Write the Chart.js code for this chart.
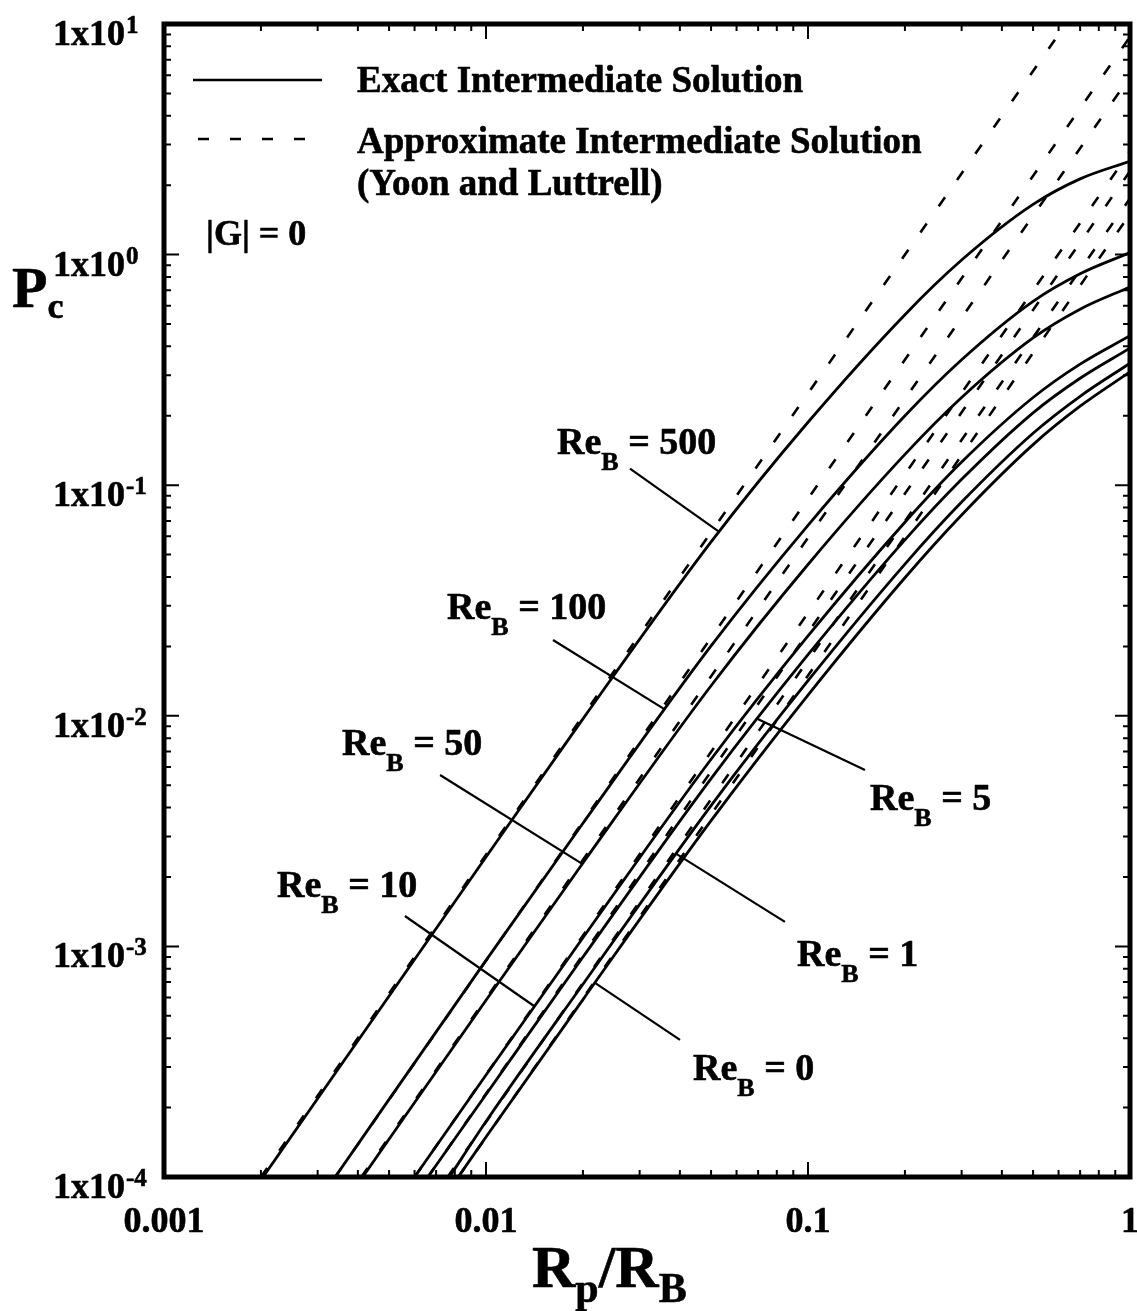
<!DOCTYPE html>
<html>
<head>
<meta charset="utf-8">
<title>Pc vs Rp/RB</title>
<script src="https://cdn.jsdelivr.net/npm/chart.js@4.4.1/dist/chart.umd.min.js"></script>
<style>
  html, body { margin: 0; padding: 0; background: #fff; }
  canvas { display: block; }
</style>
</head>
<body>
<canvas id="chart" width="1137" height="1311"></canvas>
<script>
// ---- data ----

// bubble Reynolds numbers, one exact + one approximate curve each
const reValues = ['0', '1', '5', '10', '50', '100', '500'];

// exact intermediate solution: Rp/RB where Pc = 1e-4, then Pc on rpGrid
const rpGrid = [0.01, 0.02, 0.05, 0.1, 0.2, 0.3, 0.5, 0.7, 1.0];
const exactStart = [0.0082, 0.0077, 0.0066, 0.0060, 0.00414, 0.0034, 0.00203];
const exactRe0   = [1.49e-4, 5.88e-4, 3.51e-3, 0.0123, 0.0397, 0.0743, 0.150, 0.220, 0.310];
const exactRe1   = [1.74e-4, 6.85e-4, 4.08e-3, 0.0142, 0.0455, 0.0845, 0.168, 0.243, 0.338];
const exactRe5   = [2.28e-4, 8.99e-4, 5.34e-3, 0.0184, 0.0579, 0.106, 0.206, 0.291, 0.393];
const exactRe10  = [2.77e-4, 1.09e-3, 6.48e-3, 0.0222, 0.0691, 0.126, 0.240, 0.335, 0.445];
const exactRe50  = [5.84e-4, 2.30e-3, 0.0135, 0.0453, 0.136, 0.240, 0.435, 0.580, 0.724];
const exactRe100 = [8.70e-4, 3.42e-3, 0.0201, 0.0670, 0.200, 0.350, 0.627, 0.826, 1.02];
const exactRe500 = [2.44e-3, 9.70e-3, 0.0568, 0.1875, 0.549, 0.947, 1.65, 2.13, 2.54];
const exactSeries = [exactRe0, exactRe1, exactRe5, exactRe10, exactRe50, exactRe100, exactRe500];

// approximate solution (Yoon and Luttrell): straight lines, Pc = 1e-4 at start, Pc at Rp/RB = 1
const approxStart = [0.0082, 0.0076, 0.0066, 0.0060, 0.0041, 0.0034, 0.0020];
const approxEnd   = [1.5, 1.75, 2.3, 2.8, 5.9, 8.8, 25];

// tick labels
const xTickValues = [0.001, 0.01, 0.1, 1];
const xTickLabels = ['0.001', '0.01', '0.1', '1'];
const yTickValues = [10, 1, 0.1, 0.01, 0.001, 0.0001];
const yTickExps   = ['1', '0', '-1', '-2', '-3', '-4'];

// curve labels: text anchor, leader start, leader end (on the exact curve), all as (Rp/RB, Pc)
const curveLabels = [
  { re: '500', at: [0.01662, 0.1366],    from: [0.0280, 0.118],    to: [0.053, 0.0628] },
  { re: '100', at: [0.007567, 0.02629],  from: [0.01615, 0.02131], to: [0.036, 0.01064] },
  { re: '50',  at: [0.003571, 0.00676],  from: [0.0072, 0.00554],  to: [0.0199, 0.00228] },
  { re: '10',  at: [0.002244, 0.001638], from: [0.0056, 0.001355], to: [0.01413, 5.5e-4] },
  { re: '5',   at: [0.1558, 0.003904],   from: [0.1503, 0.00582],  to: [0.0698, 0.00969] },
  { re: '1',   at: [0.09243, 0.000822],  from: [0.0848, 0.001277], to: [0.039, 0.00252] },
  { re: '0',   at: [0.04395, 0.0002634], from: [0.04004, 0.000393], to: [0.0218, 6.95e-4] },
];

// ---- drawing helpers ----

const SERIF = '"Liberation Serif", "Times New Roman", Times, serif';
const font = size => `bold ${size}px ${SERIF}`;

// filled text with a thin outline so it reads as heavy as the printed face
function heavyText(ctx, str, x, y) {
  ctx.fillText(str, x, y);
  ctx.strokeText(str, x, y);
}

// main text, lowered subscript, optional trailing text
function subText(ctx, x, y, main, sub, rest, size, subSize, drop) {
  ctx.font = font(size);
  heavyText(ctx, main, x, y);
  let cx = x + ctx.measureText(main).width;
  ctx.font = font(subSize);
  heavyText(ctx, sub, cx, y + drop);
  cx += ctx.measureText(sub).width;
  if (rest) {
    ctx.font = font(size);
    heavyText(ctx, rest, cx, y);
    cx += ctx.measureText(rest).width;
  }
  return cx;
}

function logTicks(lo, hi) {
  const out = [];
  for (let e = lo; e < hi; e++) {
    for (let m = 1; m <= 9; m++) out.push({ v: m * Math.pow(10, e), major: m === 1 });
  }
  out.push({ v: Math.pow(10, hi), major: true });
  return out;
}

const framePlugin = {
  id: 'frame',
  afterDraw(chart) {
    const { ctx, chartArea: a } = chart;
    const xs = chart.scales.x, ys = chart.scales.y;
    const px = v => xs.getPixelForValue(v);
    const py = v => ys.getPixelForValue(v);
    ctx.save();
    ctx.strokeStyle = '#000';
    ctx.fillStyle = '#000';

    // inward ticks on all four sides
    ctx.lineWidth = 2;
    ctx.beginPath();
    logTicks(-3, 0).forEach(t => {
      const len = t.major ? 15 : 7;
      const x = px(t.v);
      ctx.moveTo(x, a.bottom); ctx.lineTo(x, a.bottom - len);
      ctx.moveTo(x, a.top); ctx.lineTo(x, a.top + len);
    });
    logTicks(-4, 1).forEach(t => {
      const len = t.major ? 15 : 7;
      const y = py(t.v);
      ctx.moveTo(a.left, y); ctx.lineTo(a.left + len, y);
      ctx.moveTo(a.right, y); ctx.lineTo(a.right - len, y);
    });
    ctx.stroke();

    // frame
    ctx.lineWidth = 5;
    ctx.strokeRect(a.left, a.top, a.right - a.left, a.bottom - a.top);

    ctx.lineWidth = 0.6;
    ctx.lineJoin = 'round';

    // x tick labels
    ctx.textBaseline = 'alphabetic';
    ctx.textAlign = 'center';
    ctx.font = font(36);
    xTickValues.forEach((v, i) => heavyText(ctx, xTickLabels[i], px(v), 1232));

    // y tick labels "1x10^n"
    ctx.textAlign = 'left';
    yTickValues.forEach((v, i) => {
      const y = py(v);
      ctx.font = font(36);
      heavyText(ctx, '1x10', 53, y + 21);
      const w = ctx.measureText('1x10').width;
      ctx.font = font(25);
      heavyText(ctx, yTickExps[i], 53 + w + 1, y + 9);
    });

    // axis titles
    let cx = subText(ctx, 532, 1287, 'R', 'p', null, 60, 42, 15);
    subText(ctx, cx, 1287, '/R', 'B', null, 60, 42, 15);
    subText(ctx, 12, 307, 'P', 'c', null, 58, 36, 11);

    // legend
    ctx.lineWidth = 2.6;
    ctx.beginPath();
    ctx.moveTo(193, 80); ctx.lineTo(322, 80);
    ctx.stroke();
    ctx.setLineDash([11, 21]);
    ctx.beginPath();
    ctx.moveTo(198, 139); ctx.lineTo(309, 139);
    ctx.stroke();
    ctx.setLineDash([]);
    ctx.lineWidth = 0.6;
    ctx.font = font(37);
    heavyText(ctx, 'Exact Intermediate Solution', 357, 92);
    heavyText(ctx, 'Approximate Intermediate Solution', 357, 153);
    heavyText(ctx, '(Yoon and Luttrell)', 357, 195);
    ctx.font = font(36);
    heavyText(ctx, '|G| = 0', 206, 245);

    // curve labels with leader lines
    curveLabels.forEach(c => {
      ctx.lineWidth = 2.2;
      ctx.beginPath();
      ctx.moveTo(px(c.from[0]), py(c.from[1]));
      ctx.lineTo(px(c.to[0]), py(c.to[1]));
      ctx.stroke();
      ctx.lineWidth = 0.6;
      subText(ctx, px(c.at[0]), py(c.at[1]), 'Re', 'B', ' = ' + c.re, 38, 26, 16);
    });
    ctx.restore();
  }
};

// ---- chart ----

const datasets = [];
reValues.forEach((re, i) => {
  datasets.push({
    label: 'Exact ReB = ' + re,
    data: [{ x: exactStart[i], y: 1e-4 }].concat(rpGrid.map((x, j) => ({ x, y: exactSeries[i][j] }))),
    showLine: true,
    borderColor: '#000',
    borderWidth: 2.8,
    pointRadius: 0,
    cubicInterpolationMode: 'monotone',
  });
  datasets.push({
    label: 'Approximate ReB = ' + re,
    data: [{ x: approxStart[i], y: 1e-4 }, { x: 1, y: approxEnd[i] }],
    showLine: true,
    borderColor: '#000',
    borderWidth: 2.6,
    borderDash: [11, 21],
    pointRadius: 0,
  });
});

new Chart(document.getElementById('chart'), {
  type: 'scatter',
  data: { datasets },
  options: {
    responsive: false,
    animation: false,
    events: [],
    layout: { padding: { left: 164, right: 7, top: 24, bottom: 134 } },
    plugins: { legend: { display: false }, tooltip: { enabled: false } },
    scales: {
      x: { type: 'logarithmic', min: 0.001, max: 1, display: false },
      y: { type: 'logarithmic', min: 1e-4, max: 10, display: false },
    },
  },
  plugins: [framePlugin],
});
</script>
</body>
</html>
